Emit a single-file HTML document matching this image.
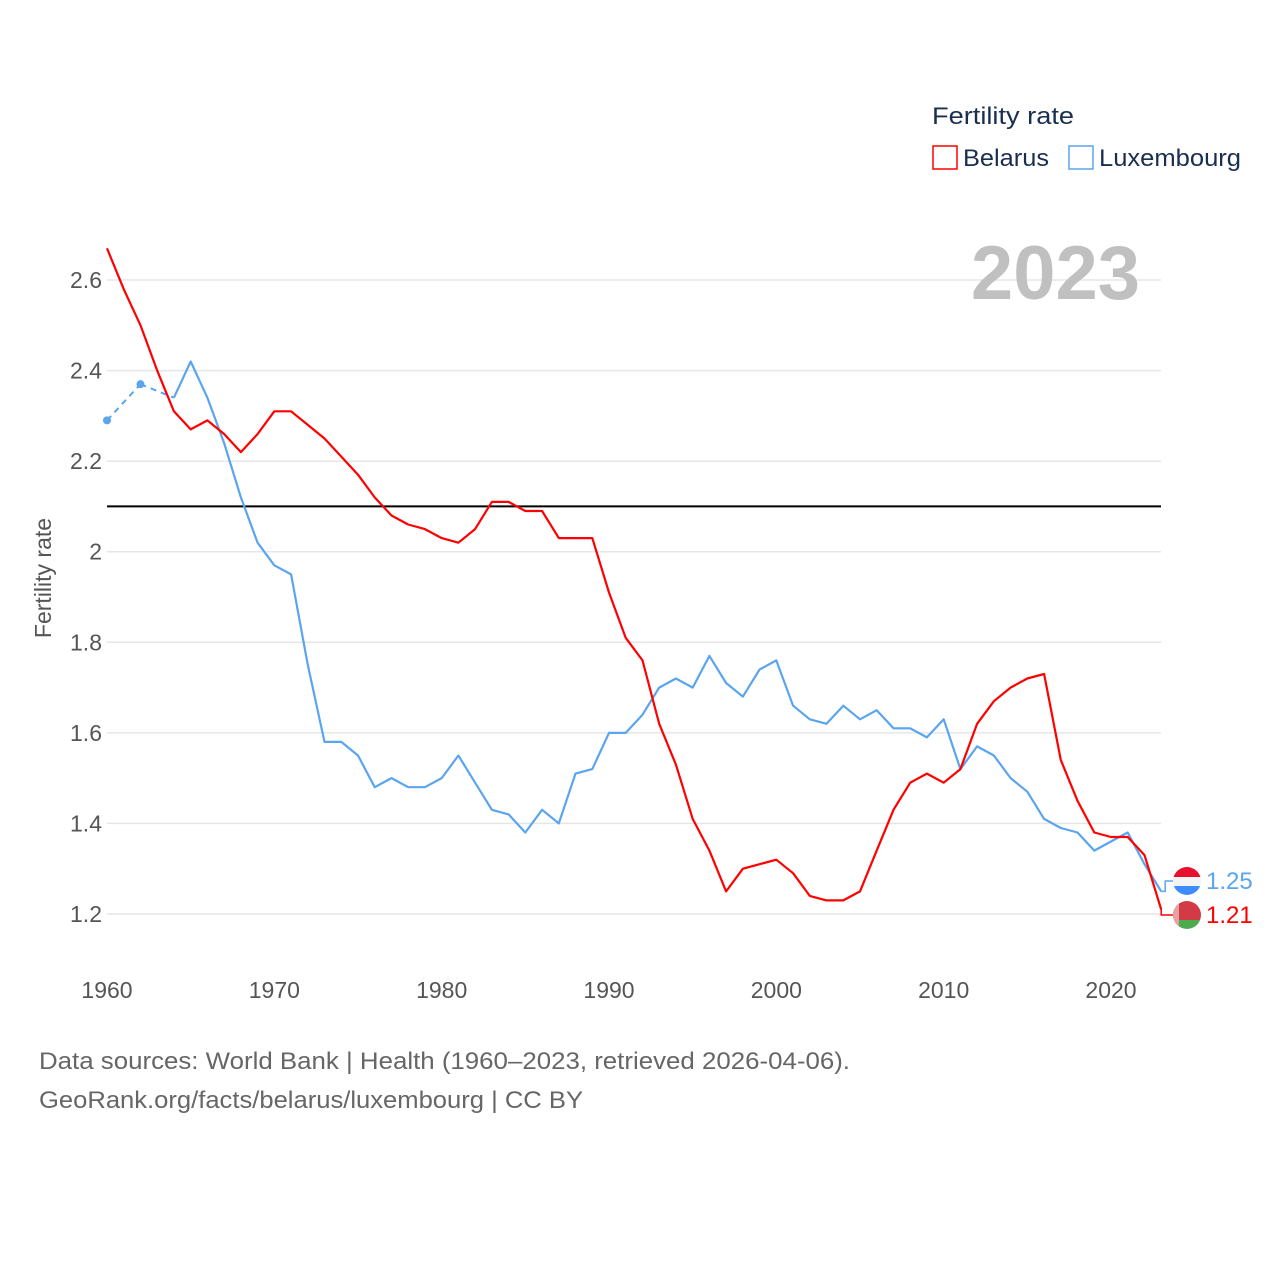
<!DOCTYPE html>
<html><head><meta charset="utf-8">
<style>
body{margin:0;background:#fff;}
svg{display:block;font-family:"Liberation Sans",sans-serif;}
</style></head>
<body>
<svg id="chart" width="1280" height="1280" viewBox="0 0 1280 1280">
  <g id="grid"></g>
  <g id="yticks"></g>
  <g id="xticks"></g>
  <text x="1140" y="299" text-anchor="end" font-size="76" font-weight="bold" fill="#c0c0c0">2023</text>
  <text transform="translate(51,578) rotate(-90)" text-anchor="middle" font-size="23" fill="#555">Fertility rate</text>
  <g id="series"></g>
  <g>
    <text x="932" y="124" font-size="24" fill="#1a2e4f" textLength="142" lengthAdjust="spacingAndGlyphs">Fertility rate</text>
    <g>
      <rect x="933" y="146" width="24" height="23" fill="none" stroke="#ff0000" stroke-width="1.5"/>
      <text x="963" y="166" font-size="24" fill="#1a2e4f" textLength="86" lengthAdjust="spacingAndGlyphs">Belarus</text>
    </g>
    <g>
      <rect x="1069" y="146" width="24" height="23" fill="none" stroke="#5aa5ee" stroke-width="1.5"/>
      <text x="1099" y="166" font-size="24" fill="#1a2e4f" textLength="142" lengthAdjust="spacingAndGlyphs">Luxembourg</text>
    </g>
  </g>
  <g>
    <defs>
      <clipPath id="c1"><circle cx="1187" cy="881" r="14"/></clipPath>
      <clipPath id="c2"><circle cx="1187" cy="915" r="14"/></clipPath>
    </defs>
    <g clip-path="url(#c1)">
      <rect x="1173" y="867" width="28" height="10" fill="#e8112d"/>
      <rect x="1173" y="877" width="28" height="9" fill="#f4f4f4"/>
      <rect x="1173" y="886" width="28" height="10" fill="#3d8bff"/>
    </g>
    <g clip-path="url(#c2)">
      <rect x="1173" y="901" width="28" height="19" fill="#d23a45"/>
      <rect x="1173" y="920" width="28" height="10" fill="#4caa4f"/>
      <rect x="1173" y="901" width="6" height="29" fill="#e9a0a0"/>
    </g>
    <text x="1206" y="889" font-size="24" fill="#5aa5ee">1.25</text>
    <text x="1206" y="923" font-size="24" fill="#ff0000">1.21</text>
  </g>
  <text x="39" y="1069" font-size="24" fill="#666" textLength="811" lengthAdjust="spacingAndGlyphs">Data sources: World Bank | Health (1960–2023, retrieved 2026-04-06).</text>
  <text x="39" y="1108" font-size="24" fill="#666" textLength="544" lengthAdjust="spacingAndGlyphs">GeoRank.org/facts/belarus/luxembourg | CC BY</text>
</svg>
<script>
const years = [];
for (let y = 1960; y <= 2023; y++) years.push(y);
const belarus = [2.67,2.58,2.50,2.40,2.31,2.27,2.29,2.26,2.22,2.26,2.31,2.31,2.28,2.25,2.21,2.17,2.12,2.08,2.06,2.05,2.03,2.02,2.05,2.11,2.11,2.09,2.09,2.03,2.03,2.03,1.91,1.81,1.76,1.62,1.53,1.41,1.34,1.25,1.30,1.31,1.32,1.29,1.24,1.23,1.23,1.25,1.34,1.43,1.49,1.51,1.49,1.52,1.62,1.67,1.70,1.72,1.73,1.54,1.45,1.38,1.37,1.37,1.33,1.21];
const luxembourg = [2.29,null,2.37,null,2.34,2.42,2.34,2.24,2.12,2.02,1.97,1.95,1.75,1.58,1.58,1.55,1.48,1.50,1.48,1.48,1.50,1.55,1.49,1.43,1.42,1.38,1.43,1.40,1.51,1.52,1.60,1.60,1.64,1.70,1.72,1.70,1.77,1.71,1.68,1.74,1.76,1.66,1.63,1.62,1.66,1.63,1.65,1.61,1.61,1.59,1.63,1.52,1.57,1.55,1.50,1.47,1.41,1.39,1.38,1.34,1.36,1.38,1.31,1.25];
const yTicks = [1.2,1.4,1.6,1.8,2,2.2,2.4,2.6];
const xTicks = [1960,1970,1980,1990,2000,2010,2020];
const replacement = 2.1;

const X = yr => 107 + (yr - 1960) * (1004 / 60);
const Y = v => 914 - (v - 1.2) * (634 / 1.4);
const NS = "http://www.w3.org/2000/svg";
function mk(tag, attrs, parent) {
  const e = document.createElementNS(NS, tag);
  for (const k in attrs) e.setAttribute(k, attrs[k]);
  parent.appendChild(e);
  return e;
}
const grid = document.getElementById('grid'), yt = document.getElementById('yticks'),
      xt = document.getElementById('xticks'), ser = document.getElementById('series');
yTicks.forEach(v => {
  const l = mk('line', {x1: 107, x2: 1161, y1: Y(v), y2: Y(v), stroke: '#e6e6e6', 'stroke-width': 1.5}, grid);
  
  
  const t = mk('text', {x: 102, y: Y(v) + 8, 'text-anchor': 'end', 'font-size': 23, fill: '#555'}, yt);
  t.textContent = String(v);
  
  
});
xTicks.forEach(v => {
  const t = mk('text', {x: X(v), y: 998, 'text-anchor': 'middle', 'font-size': 23, fill: '#555'}, xt);
  t.textContent = String(v);
  
  
});
const rl = mk('line', {x1: 107, x2: 1161, y1: Y(replacement), y2: Y(replacement), stroke: '#000', 'stroke-width': 2}, ser);



function drawSeries(vals, color, name) {
  let prev = -1;
  vals.forEach((v, i) => {
    if (v == null) return;
    if (prev >= 0 && i - prev > 1) {
      const d = mk('line', {x1: X(years[prev]), y1: Y(vals[prev]), x2: X(years[i]), y2: Y(v), stroke: color, 'stroke-width': 2, 'stroke-dasharray': '6,5'}, ser);
      
      
    }
    prev = i;
  });
  let d = '', pen = false;
  vals.forEach((v, i) => {
    if (v == null) { pen = false; return; }
    const nextOk = i + 1 < vals.length && vals[i + 1] != null;
    const prevOk = i > 0 && vals[i - 1] != null;
    if (!prevOk && !nextOk) {
      const c = mk('circle', {cx: X(years[i]), cy: Y(v), r: 4, fill: color}, ser);
      
      
    }
    d += (pen ? 'L' : 'M') + X(years[i]).toFixed(1) + ',' + Y(v).toFixed(1);
    pen = true;
  });
  const p = mk('path', {d: d, fill: 'none', stroke: color, 'stroke-width': 2.2, 'stroke-linejoin': 'round'}, ser);
  
  
}
drawSeries(luxembourg, '#5aa5ee', 'luxembourg');
drawSeries(belarus, '#ff0000', 'belarus');
const lx = X(2023);
const c1 = mk('polyline', {points: `${lx},${Y(luxembourg[63])} ${lx+4},${Y(luxembourg[63])} ${lx+4},881 1173,881`, fill: 'none', stroke: '#5aa5ee', 'stroke-width': 1.5}, ser);


const c2 = mk('polyline', {points: `${lx},${Y(belarus[63])} ${lx},915 1173,915`, fill: 'none', stroke: '#ff0000', 'stroke-width': 1.5}, ser);


</script>
</body></html>
